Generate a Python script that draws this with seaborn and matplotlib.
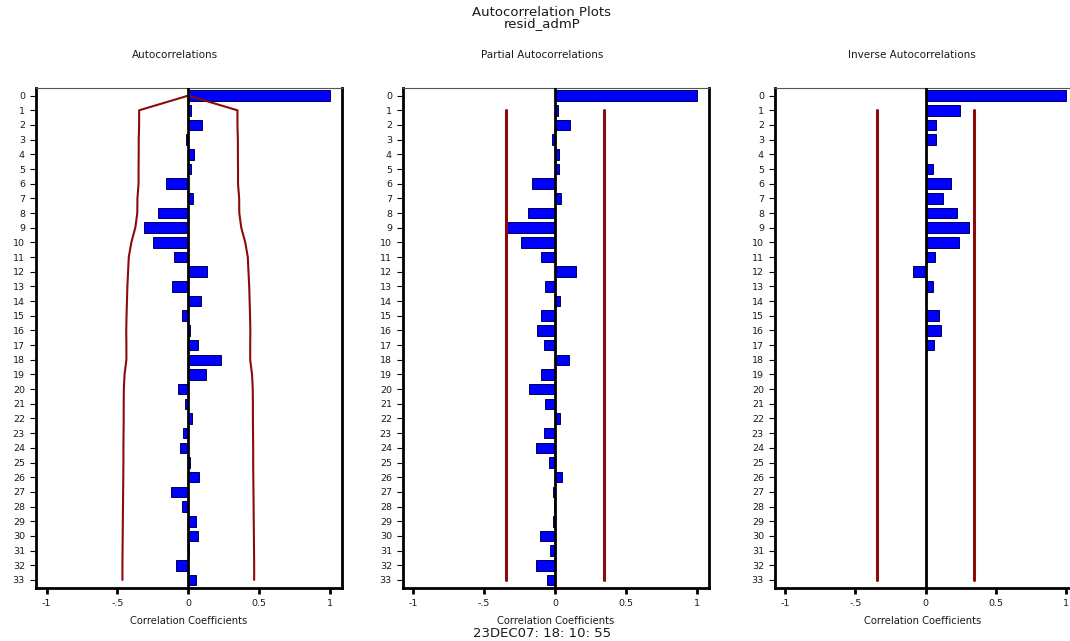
import matplotlib
matplotlib.use("Agg")
import matplotlib.pyplot as plt
import seaborn as sns
import pandas as pd
import numpy as np

sns.set_style("white")
plt.rcParams['font.family'] = ['DejaVu Sans']

lags = list(range(34))

acf_values = [1.0, 0.02, 0.10, -0.016, 0.04, 0.02, -0.158, 0.033, -0.214, -0.313,
              -0.247, -0.099, 0.134, -0.115, 0.087, -0.045, 0.014, 0.07, 0.228, 0.127,
              -0.073, -0.021, 0.026, -0.038, -0.056, 0.014, 0.075, -0.125, -0.042, 0.052,
              0.066, 0.003, -0.085, 0.056]

pacf_values = [1.0, 0.023, 0.105, -0.019, 0.028, 0.026, -0.164, 0.04, -0.187, -0.335,
               -0.239, -0.096, 0.148, -0.073, 0.035, -0.098, -0.123, -0.075, 0.10, -0.098,
               -0.18, -0.073, 0.035, -0.077, -0.133, -0.042, 0.047, -0.014, -0.007, -0.014,
               -0.105, -0.033, -0.131, -0.054]

iacf_values = [1.0, 0.242, 0.075, 0.073, 0.004, 0.054, 0.181, 0.122, 0.226, 0.306,
               0.235, 0.066, -0.087, 0.054, 0.003, 0.096, 0.11, 0.061, 0.0, 0.0,
               0.0, 0.0, 0.0, 0.0, 0.0, 0.0, 0.0, 0.0, 0.0, 0.0,
               0.0, 0.0, 0.0, 0.0]

acf_band = [0.0, 0.347, 0.347, 0.350, 0.350, 0.351, 0.351, 0.359, 0.360, 0.374,
            0.402, 0.420, 0.425, 0.430, 0.433, 0.436, 0.438, 0.437, 0.437, 0.450,
            0.455, 0.456, 0.456, 0.457, 0.458, 0.458, 0.459, 0.460, 0.461, 0.462,
            0.463, 0.464, 0.465, 0.465]

pacf_band = 0.345
iacf_band = 0.345

panel_titles = ["Autocorrelations", "Partial Autocorrelations", "Inverse Autocorrelations"]
xtick_vals = [-1, -0.5, 0, 0.5, 1]
xtick_labels = ["-1", "-.5", "0", "0.5", "1"]

W, H = 1070, 641
fig = plt.figure(figsize=(W / 100, H / 100), dpi=100)

def px_axes(left, right, top, bottom):
    return fig.add_axes([left / W, 1 - bottom / H, (right - left) / W, (bottom - top) / H])

ax1 = px_axes(36, 342, 88, 588)
ax2 = px_axes(403, 709, 88, 588)
ax3 = px_axes(775, 1070, 88, 588)
xlims = [(-1.075, 1.085), (-1.07, 1.085), (-1.071, 1.026)]

red = "#8b0a0a"
blue = "#0000ff"
txt = "#1a1a1a"

for ax, vals, xl in zip([ax1, ax2, ax3], [acf_values, pacf_values, iacf_values], xlims):
    df = pd.DataFrame({"lag": lags, "value": vals})
    sns.barplot(data=df, x="value", y="lag", orient="h", order=lags, ax=ax,
                color=blue, saturation=1, width=0.72, edgecolor="#00005a",
                linewidth=0.7, errorbar=None)
    ax.axvline(0, color="black", lw=2.0, zorder=5)
    ax.set_xlim(*xl)
    ax.set_ylim(33.55, -0.52)
    ax.set_xticks(xtick_vals)
    ax.set_xticklabels(xtick_labels)
    ax.set_yticks(lags)
    ax.set_yticklabels([str(l) for l in lags])
    ax.set_ylabel("")
    ax.set_xlabel("Correlation Coefficients", fontsize=7.2, labelpad=5.5, color=txt)
    ax.tick_params(axis="y", length=4, width=0.8, pad=4, labelsize=6.8, left=True,
                   color="black", labelcolor=txt)
    ax.tick_params(axis="x", length=4, width=2, pad=4, labelsize=6.8, bottom=True,
                   color="black", labelcolor=txt)
    for s in ["left", "bottom", "right"]:
        ax.spines[s].set_color("black")
        ax.spines[s].set_linewidth(2.0)
    ax.spines["top"].set_color("#555555")
    ax.spines["top"].set_linewidth(0.8)
    ax.grid(False)

ax3.spines["right"].set_visible(False)

# bands
ax1.plot(acf_band, lags, color=red, lw=1.5, zorder=4)
ax1.plot([-b for b in acf_band], lags, color=red, lw=1.5, zorder=4)
ax2.plot([pacf_band, pacf_band], [1, 33], color=red, lw=2.2, zorder=4)
ax2.plot([-pacf_band, -pacf_band], [1, 33], color=red, lw=2.2, zorder=4)
ax3.plot([iacf_band, iacf_band], [1, 33], color=red, lw=2.2, zorder=4)
ax3.plot([-iacf_band, -iacf_band], [1, 33], color=red, lw=2.2, zorder=4)

# titles
fig.text(542 / W, 1 - 12 / H, "Autocorrelation Plots", ha="center", va="center",
         fontsize=9.5, color=txt)
fig.text(542 / W, 1 - 24 / H, "resid_admP", ha="center", va="center",
         fontsize=9.5, color=txt)
for cx, t in zip([175, 542, 912], panel_titles):
    fig.text(cx / W, 1 - 55 / H, t, ha="center", va="center", fontsize=7.5, color=txt)
fig.text(542 / W, 1 - 633.5 / H, "23DEC07: 18: 10: 55", ha="center", va="center",
         fontsize=9.5, color=txt)

fig.savefig("out.png", dpi=100)
